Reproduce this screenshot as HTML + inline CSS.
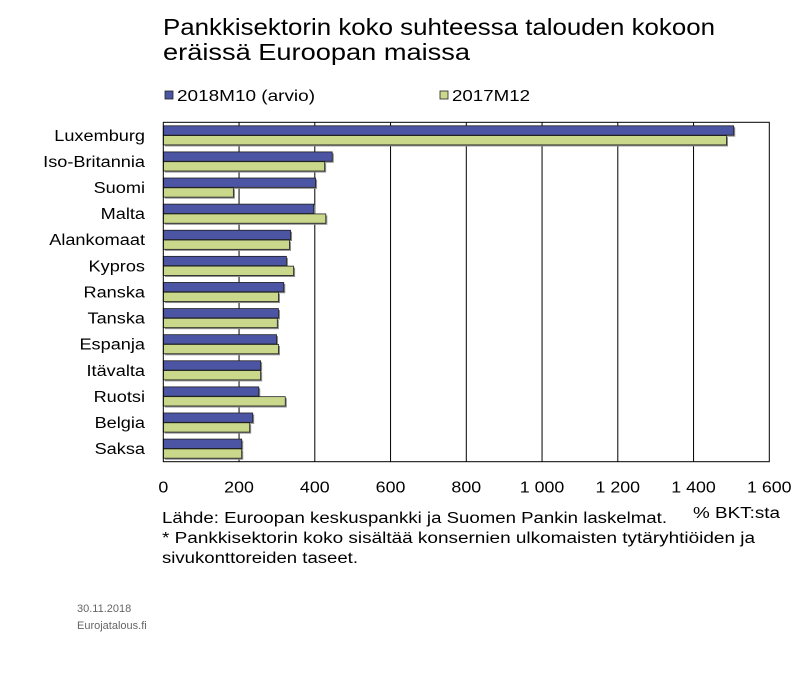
<!DOCTYPE html>
<html><head><meta charset="utf-8"><style>
body{margin:0;background:#fff;width:800px;height:674px;overflow:hidden}
svg text{font-family:"Liberation Sans",Arial,sans-serif;fill:#000}
</style></head><body>
<svg id="chart" width="800" height="674">
<text x="163" y="35" font-size="23.5" textLength="552" lengthAdjust="spacingAndGlyphs">Pankkisektorin koko suhteessa talouden kokoon</text>
<text x="163" y="60" font-size="23.5" textLength="307" lengthAdjust="spacingAndGlyphs">eräissä Euroopan maissa</text>
<g>
<rect x="165" y="91" width="8" height="8" fill="#4b55a3" stroke="#222" stroke-width="0.8"/>
<text x="177" y="101" font-size="16" textLength="138" lengthAdjust="spacingAndGlyphs">2018M10 (arvio)</text>
<rect x="440" y="91" width="8" height="8" fill="#c9d88a" stroke="#222" stroke-width="0.8"/>
<text x="452" y="101" font-size="16" textLength="78" lengthAdjust="spacingAndGlyphs">2017M12</text>
</g>
<g id="grid"></g><g id="bars"></g><g id="labels"></g><g id="ticks"></g>
<rect x="163.3" y="122.3" width="606" height="339.4" fill="none" stroke="#000" stroke-width="1"/>
<text x="162" y="523" font-size="15.5" textLength="505" lengthAdjust="spacingAndGlyphs">Lähde: Euroopan keskuspankki ja Suomen Pankin laskelmat.</text>
<text x="693" y="518" font-size="15.5" textLength="87" lengthAdjust="spacingAndGlyphs">% BKT:sta</text>
<text x="162" y="543" font-size="15.5" textLength="593" lengthAdjust="spacingAndGlyphs">* Pankkisektorin koko sisältää konsernien ulkomaisten tytäryhtiöiden ja</text>
<text x="162" y="563" font-size="15.5" textLength="196" lengthAdjust="spacingAndGlyphs">sivukonttoreiden taseet.</text>
<text x="77" y="612" font-size="11" style="fill:#666">30.11.2018</text>
<text x="77" y="629" font-size="11" style="fill:#666">Eurojatalous.fi</text>
</svg>
<script>
const categories=["Luxemburg","Iso-Britannia","Suomi","Malta","Alankomaat","Kypros","Ranska","Tanska","Espanja","Itävalta","Ruotsi","Belgia","Saksa"];
const series2018=[1506,446,402,397,336,325,318,304,299,257,252,236,207];
const series2017=[1487,426,185,429,333,344,304,301,304,257,322,228,207];
const tickValues=[0,200,400,600,800,1000,1200,1400,1600];
const tickLabels=["0","200","400","600","800","1 000","1 200","1 400","1 600"];
const NS="http://www.w3.org/2000/svg";
const X0=163.3,X1=769.3,Y0=122.3,Y1=461.7,MAX=1600;
const xs=v=>X0+(v/MAX)*(X1-X0);
const slot=(Y1-Y0)/categories.length;
function mk(t,a,p){const e=document.createElementNS(NS,t);for(const k in a)e.setAttribute(k,a[k]);p.appendChild(e);return e;}
function stretch(t,f){const w=t.getComputedTextLength();t.setAttribute('textLength',w*f);t.setAttribute('lengthAdjust','spacingAndGlyphs');}
const grid=document.getElementById('grid'),bars=document.getElementById('bars'),labels=document.getElementById('labels'),ticks=document.getElementById('ticks');
tickValues.forEach((v,i)=>{
 if(v>0&&v<MAX){const l=mk('line',{x1:xs(v),x2:xs(v),y1:Y0,y2:Y1,stroke:'#000','stroke-width':1},grid);
 
 }
 const t=mk('text',{x:xs(v),y:Y1+31,'font-size':15.5,'text-anchor':'middle'},ticks);
 t.textContent=tickLabels[i];
 
 
 stretch(t,1.15);
});
categories.forEach((c,i)=>{
 const top=Y0+i*slot+3.5;
 [[series2018[i],'#4b55a3',0,'2018'],[series2017[i],'#c9d88a',9.8,'2017']].forEach(([v,col,off,s])=>{
  mk('rect',{x:X0+1.5,y:top+off+1.5,width:xs(v)-X0,height:9.3,fill:'#888'},bars);
  const r=mk('rect',{x:X0,y:top+off,width:xs(v)-X0,height:9.3,fill:col,stroke:'#222','stroke-width':0.8},bars);
  
  
 });
 const t=mk('text',{x:145,y:Y0+i*slot+18.5,'font-size':15.5,'text-anchor':'end'},labels);
 t.textContent=c;
 
 
 stretch(t,1.17);
});
</script>
</body></html>
